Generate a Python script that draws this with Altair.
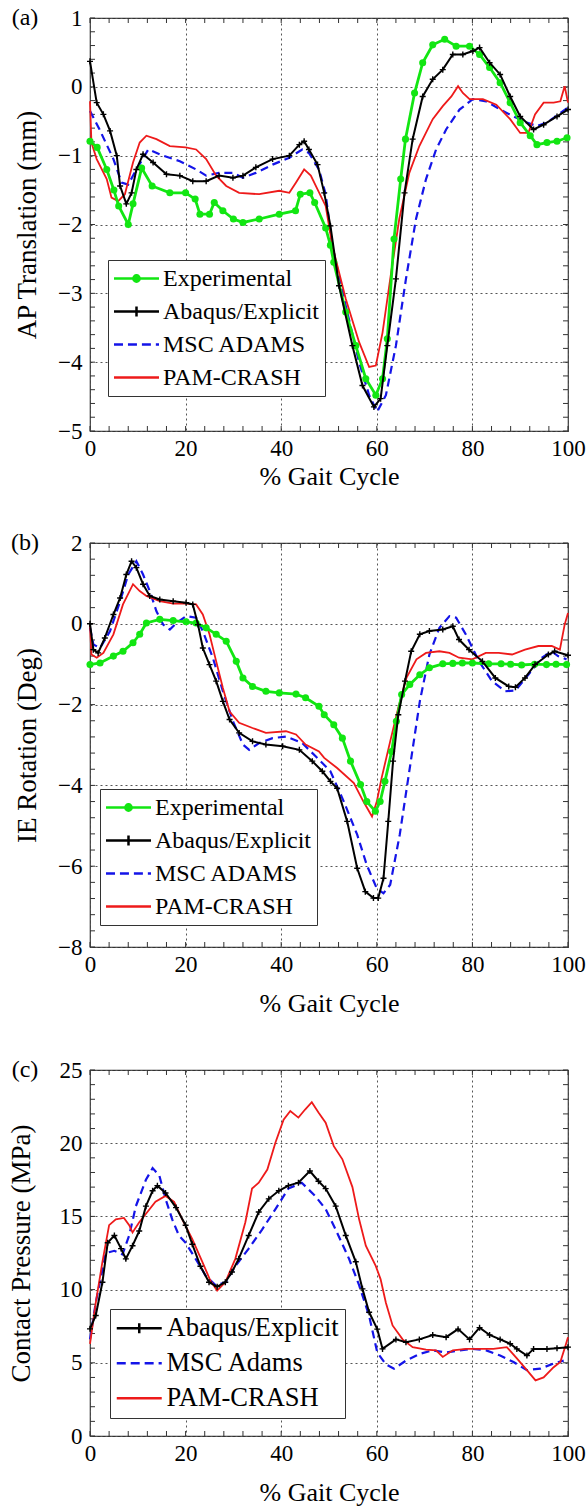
import altair as alt
import pandas as pd

FONT = "Liberation Serif"

# ---------------- Panel (a): AP Translation ----------------
exp_a_x = [0, 1.5, 3.5, 5, 6, 8, 9, 10.8, 13, 16.7, 20, 22, 23, 25, 26, 27.8, 30, 32, 35.4, 39.6, 43, 44, 46, 47,
           49.3, 50.3, 51, 53.5, 55.6, 57.7, 59.8, 61.2, 62.2, 63.6, 65, 66, 67.9, 69.6, 71.7, 74.2, 76.6, 79.4,
           81.5, 83.6, 85.8, 87.9, 90, 92.1, 93.5, 95.6, 97.7, 99.8]
exp_a_y = [-0.79, -0.88, -1.2, -1.5, -1.73, -2.0, -1.7, -1.18, -1.44, -1.54, -1.54, -1.63, -1.85, -1.85, -1.68, -1.8,
           -1.92, -1.97, -1.92, -1.85, -1.8, -1.56, -1.54, -1.68, -2.05, -2.3, -2.55, -3.27, -3.76, -4.24, -4.48,
           -4.24, -3.66, -2.21, -1.34, -0.76, -0.09, 0.35, 0.61, 0.69, 0.59, 0.59, 0.47, 0.28, 0.06, -0.23, -0.52,
           -0.71, -0.84, -0.81, -0.79, -0.74]
abq_a_x = [0, 1.4, 2.8, 4.2, 5.6, 6.3, 7.6, 8.7, 9.7, 11.1, 13.2, 16, 18.8, 21.5, 24.3, 27, 29.9, 32, 34.7, 38.2,
           41.7, 43.8, 44.8, 45.8, 47.6, 49, 50.3, 52.1, 54.9, 57, 59.4, 60.8, 62.2, 64, 65.8, 67.5, 69.6, 71.7,
           73.8, 75.9, 78, 80.1, 81.5, 83.6, 85.8, 87.9, 90, 92.8, 94.9, 97.7, 100]
abq_a_y = [0.37, -0.23, -0.4, -0.64, -1.0, -1.44, -1.7, -1.54, -1.2, -0.98, -1.1, -1.27, -1.29, -1.37, -1.37, -1.29,
           -1.32, -1.29, -1.17, -1.05, -1.0, -0.84, -0.79, -0.91, -1.13, -1.54, -2.02, -2.89, -3.76, -4.34, -4.65,
           -4.53, -3.76, -2.79, -1.54, -0.76, -0.14, 0.11, 0.25, 0.47, 0.47, 0.52, 0.57, 0.35, 0.18, -0.14, -0.43,
           -0.62, -0.55, -0.43, -0.33]
msc_a_x = [0, 2, 4.9, 6.6, 8, 9.7, 12.2, 15.3, 18.8, 22.2, 24.3, 27, 29.9, 32, 34.7, 38.2, 41.7, 44.4, 45.8, 47.9,
           49.3, 50.7, 53.5, 56.3, 58.4, 60.1, 61.9, 64, 66.1, 68.2, 70.3, 72.4, 74.5, 77.3, 80.1, 82.9, 85.8, 88.6,
           91.4, 93.5, 95.6, 98.4, 100]
msc_a_y = [-0.35, -0.62, -1.05, -1.39, -1.42, -1.2, -0.91, -1.0, -1.08, -1.2, -1.29, -1.25, -1.25, -1.32, -1.25,
           -1.13, -1.03, -0.91, -0.96, -1.2, -1.56, -2.31, -3.18, -4.0, -4.48, -4.72, -4.48, -3.76, -2.79, -1.92,
           -1.34, -0.91, -0.62, -0.33, -0.18, -0.21, -0.33, -0.43, -0.52, -0.57, -0.52, -0.38, -0.30]
pam_a_x = [0, 0.3, 1.4, 3.5, 4.5, 5.9, 7.3, 9, 10.4, 11.8, 13.9, 16.7, 20, 22.2, 24.3, 26.4, 28.5, 31.2, 35.4, 39.6,
           41.7, 43.1, 44.8, 46.2, 47.6, 49.3, 50.7, 53.5, 56.3, 58.4, 59.8, 61.2, 63, 64.7, 66.8, 68.9, 71.7, 73.8,
           75.6, 77, 78, 79.4, 82.2, 85, 87.9, 90, 91.7, 93.1, 94.9, 97, 98.4, 99.3, 100]
pam_a_y = [-0.21, -0.81, -1.05, -1.34, -1.61, -1.66, -1.56, -1.1, -0.81, -0.71, -0.76, -0.86, -0.88, -0.91, -1.05,
           -1.29, -1.44, -1.54, -1.56, -1.51, -1.54, -1.39, -1.2, -1.29, -1.49, -1.73, -2.31, -3.08, -3.71, -4.07,
           -4.05, -3.57, -2.70, -1.92, -1.25, -0.86, -0.47, -0.28, -0.14, 0.01, -0.09, -0.18, -0.18, -0.26, -0.47,
           -0.67, -0.67, -0.4, -0.23, -0.23, -0.21, 0.01, -0.23]

# ---------------- Panel (b): IE Rotation ----------------
exp_b_x = [0, 2.1, 4.9, 6.9, 9, 10.4, 11.8, 14.6, 17.4, 20.1, 22.2, 24.3, 26.4, 28.5, 30.6, 32, 34, 36.8, 39.6,
           43.1, 45.1, 47.9, 49, 51, 52.8, 54.5, 56.6, 57.9, 59.7, 60.7, 61.7, 63.1, 64.1, 65.2, 66.9, 69, 71,
           73.8, 75.9, 77.9, 80, 83.4, 86, 88, 90.3, 93, 95.5, 97.5, 99.7]
exp_b_y = [-1.01, -0.97, -0.8, -0.68, -0.47, -0.26, 0.02, 0.11, 0.08, 0.05, 0.02, -0.1, -0.26, -0.43, -0.93, -1.34,
           -1.55, -1.67, -1.71, -1.74, -1.83, -2.04, -2.25, -2.5, -2.83, -3.4, -3.98, -4.4, -4.64, -4.4, -3.9,
           -3.16, -2.41, -1.75, -1.5, -1.26, -1.09, -0.99, -0.98, -0.97, -0.97, -0.99, -0.99, -1.0, -1.02, -1.0,
           -1.01, -1.0, -1.01]
abq_b_x = [0, 0.7, 1.7, 3.1, 4.9, 6.3, 7.6, 8.7, 9.7, 11.1, 12.5, 14.6, 17.4, 20.1, 21.5, 22.6, 23.6, 25, 26.4,
           27.8, 29.2, 31.2, 34, 36.8, 40.3, 43.8, 46.5, 48.6, 50.3, 51.7, 53.8, 55.9, 57.6, 59.3, 60.3, 61.4, 62.4,
           63.4, 64.5, 65.9, 67.2, 69, 71, 73.8, 75.9, 77.2, 79.3, 82.1, 84.8, 87.6, 89, 91, 93.1, 95.9, 97.2, 100]
abq_b_y = [0.0, -0.64, -0.72, -0.35, 0.23, 0.64, 1.22, 1.55, 1.39, 0.98, 0.69, 0.6, 0.56, 0.52, 0.48, -0.02, -0.6,
           -1.01, -1.42, -1.92, -2.37, -2.7, -2.91, -2.99, -3.03, -3.12, -3.4, -3.65, -3.9, -4.07, -4.89, -6.05,
           -6.63, -6.79, -6.79, -6.3, -4.89, -3.4, -2.25, -1.42, -0.68, -0.26, -0.18, -0.14, -0.06, -0.39, -0.64,
           -0.93, -1.34, -1.55, -1.57, -1.34, -1.01, -0.76, -0.68, -0.78]
msc_b_x = [0, 0.7, 2.1, 4.2, 6.3, 8, 9.7, 11.1, 12.5, 13.9, 15.3, 16.7, 18.1, 20.1, 22.2, 23.6, 25.7, 27.8, 29.9,
           32, 33.3, 35.4, 38.2, 41, 44.4, 47.2, 50.3, 53.1, 55.9, 57.9, 60, 61.4, 62.8, 64.8, 66.9, 69, 71, 73.1,
           75.2, 76.6, 78.6, 81.4, 84.1, 86.9, 89, 91.7, 94.5, 96.6, 97.9, 99.7]
msc_b_y = [-0.1, -0.51, -0.6, -0.18, 0.56, 1.22, 1.55, 1.22, 0.81, 0.31, -0.02, -0.14, 0.02, 0.19, 0.15, -0.18,
           -0.84, -1.67, -2.41, -2.99, -3.12, -2.95, -2.83, -2.79, -2.95, -3.28, -3.65, -4.4, -5.22, -5.97, -6.55,
           -6.67, -6.46, -5.22, -3.57, -1.92, -0.76, -0.1, 0.19, 0.15, -0.26, -0.93, -1.42, -1.67, -1.65, -1.26,
           -0.84, -0.68, -0.8, -0.88]
pam_b_x = [0, 0.3, 1.4, 2.8, 4.9, 6.9, 9, 10.4, 11.8, 14.6, 17.4, 20.1, 22.2, 23.6, 25, 26.4, 27.8, 29.2, 31.2, 34,
           36.8, 41, 43.1, 45.1, 47.9, 49, 51.7, 55.2, 57.2, 59, 60, 61, 62.8, 64.5, 66.2, 68.3, 70.3, 73.1, 75.2,
           77.2, 80, 82.8, 85.5, 88.3, 91, 93.8, 96.6, 98.3, 99.3, 100]
pam_b_y = [-0.02, -0.76, -0.84, -0.72, -0.26, 0.48, 0.98, 0.81, 0.69, 0.56, 0.5, 0.5, 0.48, 0.23, -0.26, -0.93,
           -1.59, -2.17, -2.45, -2.58, -2.7, -2.66, -2.74, -2.99, -3.16, -3.32, -3.57, -3.94, -4.4, -4.77, -4.4,
           -3.82, -2.91, -2.08, -1.34, -0.88, -0.72, -0.68, -0.72, -0.84, -0.88, -0.72, -0.72, -0.76, -0.64, -0.55,
           -0.55, -0.64, -0.02, 0.27]

# ---------------- Panel (c): Contact Pressure ----------------
abq_c_x = [0, 1.2, 2.6, 3.7, 5.1, 6.5, 7.5, 8.9, 10.3, 11.7, 13.1, 14.1, 15.8, 18, 20, 21.4, 23.1, 24.9, 26.6, 28.3,
           29.7, 31.1, 33.2, 35.3, 37.4, 39.5, 41.5, 43.6, 46, 47.8, 49.3, 51.4, 53.5, 55.6, 57, 58.4, 60.1, 61.2,
           64, 66.1, 68.9, 71.7, 74.5, 77, 79.4, 81.5, 83.6, 85.8, 87.9, 89.3, 91.4, 92.8, 95.6, 97.7, 100]
abq_c_y = [7.32, 8.23, 10.5, 13.2, 13.7, 12.8, 12.1, 13.0, 14.0, 15.7, 16.75, 17.1, 16.6, 15.6, 14.4, 13.1, 11.6,
           10.5, 10.2, 10.5, 11.2, 12.1, 13.7, 15.3, 16.2, 16.75, 17.1, 17.3, 18.1, 17.4, 16.9, 15.7, 13.7, 11.9,
           10.05, 8.45, 7.3, 5.95, 6.6, 6.4, 6.6, 6.9, 6.75, 7.3, 6.6, 7.4, 6.9, 6.6, 6.3, 5.95, 5.5, 5.95, 5.95,
           6.0, 6.07]
msc_c_x = [0, 1.2, 3.3, 5.1, 6.8, 8.2, 9.6, 11.7, 13.1, 14.5, 15.8, 17.2, 18.6, 20, 22.1, 24.2, 26.3, 28.4, 30.4,
           33.2, 36, 38.8, 41.5, 44.3, 47.1, 49.3, 51.4, 54.2, 56.3, 58.4, 60.1, 61.9, 63.6, 66.1, 68.9, 71.7, 74.5,
           77.3, 80.1, 82.9, 85.8, 88.6, 91.4, 94.2, 97, 99.1]
msc_c_y = [6.6, 9.1, 12.5, 12.65, 12.4, 13.7, 15.7, 17.5, 18.3, 17.8, 16.2, 14.8, 13.7, 13.2, 12.1, 10.95, 10.3,
           10.5, 11.6, 12.8, 14.1, 15.5, 16.9, 17.3, 16.4, 15.5, 14.1, 12.1, 10.3, 8.2, 5.7, 4.9, 4.6, 5.15, 5.6,
           5.85, 5.7, 5.85, 5.95, 5.85, 5.5, 5.05, 4.5, 4.6, 4.95, 5.15]
pam_c_x = [0, 1.2, 2.6, 4, 5.4, 7.1, 8.2, 8.9, 10.3, 12, 13.7, 15.8, 17.6, 19.3, 21.4, 23.5, 25.2, 26.6, 28.3, 30.4,
           32.5, 33.9, 35.3, 37.1, 38.8, 40.5, 41.9, 43.6, 45, 46.4, 47.8, 49.3, 51, 52.8, 54.9, 56.3, 57.7, 59.8,
           60.8, 61.9, 63.3, 65.4, 67.5, 70.3, 72.4, 73.8, 75.9, 78.7, 81.5, 84.4, 87.2, 89.3, 91.4, 93.2, 94.9, 97,
           98.4, 99.5, 100]
pam_c_y = [6.3, 9.1, 11.9, 14.4, 14.8, 14.9, 14.4, 13.9, 14.6, 15.3, 16.0, 16.4, 16.0, 14.8, 13.45, 11.9, 10.6, 9.93,
           10.5, 12.1, 14.6, 16.9, 17.3, 18.2, 20.05, 21.6, 22.2, 21.75, 22.3, 22.8, 22.1, 21.4, 19.8, 18.9, 17.0,
           14.8, 13.0, 11.6, 10.7, 9.1, 7.55, 6.6, 6.07, 5.9, 5.85, 5.4, 5.85, 5.95, 5.95, 5.95, 6.07, 5.3, 4.5,
           3.8, 4.0, 4.7, 5.05, 6.2, 6.75]

# ---------------- Axis tick values ----------------
x_major = [0, 20, 40, 60, 80, 100]
x_minor = list(range(0, 101, 4))
y_major_a = [-5, -4, -3, -2, -1, 0, 1]
y_minor_a = [round(-5 + 0.2 * i, 1) for i in range(31)]
y_major_b = [-8, -6, -4, -2, 0, 2]
y_minor_b = [round(-8 + 0.4 * i, 1) for i in range(26)]
y_major_c = [0, 5, 10, 15, 20, 25]
y_minor_c = list(range(0, 26))

panel_labels = ["(a)", "(b)", "(c)"]
y_titles = ["AP Translation (mm)", "IE Rotation (Deg)", "Contact Pressure (MPa)"]
x_title = "% Gait Cycle"

GREEN, BLACK, BLUE, RED = "#12e612", "#000000", "#1414e8", "#ee1a1a"
# legend glyphs (line + marker), drawn in a [-2, 2] box
P_EXP = ("M-2,0H2M-0.28,0A0.28,0.28 0 1,0 0.28,0A0.28,0.28 0 1,0 -0.28,0"
         "M-0.1,0A0.1,0.1 0 1,0 0.1,0A0.1,0.1 0 1,0 -0.1,0")
P_ABQ = "M-2,0H2M0,-0.44V0.44"
P_MSC = "M-2,0H-1.2M-0.76,0H0.04M0.48,0H1.28M1.72,0H2"
P_PAM = "M-2,0H2"
PLUS = "M-1,0H1M0,-1V1"

W = 478
SYM = 506  # sqrt(506) ~ 22.5 -> glyph 45 px wide


def df(xs, ys):
    return pd.DataFrame({"x": xs, "y": ys})


def panel(label, ytitle, ydom, ymaj, ymin, H, series, leg_names, leg_colors, leg_paths,
          leg_x, leg_y, title_x, x_title_y, leg_font):
    xs = alt.Scale(domain=[0, 100], nice=False, zero=False)
    ys = alt.Scale(domain=ydom, nice=False, zero=False)
    xaxis = alt.Axis(values=x_major, title=x_title, grid=True, ticks=False, tickSize=0, domain=False,
                     labelPadding=6, titleX=W / 2, titleY=x_title_y, titleBaseline="middle",
                     labelFlush=False)
    yaxis = alt.Axis(values=ymaj, title=ytitle, grid=True, ticks=False, tickSize=0, domain=False,
                     labelPadding=8, titleX=title_x, titleY=H / 2, titleBaseline="middle",
                     titleAlign="center", titleAngle=270)

    def X(field="x"):
        return alt.X(f"{field}:Q", scale=xs, axis=xaxis)

    def Y(field="y"):
        return alt.Y(f"{field}:Q", scale=ys, axis=yaxis)

    layers = []
    tick_col = "#333333"
    xt = pd.DataFrame({"v": x_minor})
    yt = pd.DataFrame({"v": ymin})
    layers.append(alt.Chart(xt).mark_rule(color=tick_col, strokeWidth=1).encode(
        x=X("v"), y=alt.value(H), y2=alt.value(H - 5)))
    layers.append(alt.Chart(xt).mark_rule(color=tick_col, strokeWidth=1).encode(
        x=X("v"), y=alt.value(0), y2=alt.value(5)))
    layers.append(alt.Chart(yt).mark_rule(color=tick_col, strokeWidth=1).encode(
        y=Y("v"), x=alt.value(0), x2=alt.value(5)))
    layers.append(alt.Chart(yt).mark_rule(color=tick_col, strokeWidth=1).encode(
        y=Y("v"), x=alt.value(W - 5), x2=alt.value(W)))

    for (kind, xs_, ys_, color, width, dash) in series:
        kw = dict(color=color, strokeWidth=width)
        if dash:
            kw["strokeDash"] = dash
        layers.append(alt.Chart(df(xs_, ys_)).mark_line(**kw).encode(x=X(), y=Y()))
        if kind == "exp":
            layers.append(alt.Chart(df(xs_, ys_)).mark_point(shape="circle", filled=True, size=50,
                                                             color=color, opacity=1).encode(x=X(), y=Y()))
        if kind == "abq":
            layers.append(alt.Chart(df(xs_, ys_)).mark_point(shape=PLUS, filled=False, size=36,
                                                             strokeWidth=1.4, color=color, opacity=1).encode(
                x=X(), y=Y()))

    leg = alt.Legend(title=None, orient="none", legendX=leg_x, legendY=leg_y, labelFont=FONT,
                     labelFontSize=leg_font, labelColor="black", symbolSize=SYM, symbolStrokeWidth=2.5,
                     symbolOffset=10, rowPadding=8, padding=6, fillColor="white", strokeColor="#333333",
                     labelOffset=14, labelLimit=400, symbolOpacity=1)
    legend_layer = alt.Chart(pd.DataFrame({"series": leg_names})).mark_point(
        filled=False, strokeWidth=2.5, size=SYM, opacity=1).encode(
        color=alt.Color("series:N", scale=alt.Scale(domain=leg_names, range=leg_colors), legend=leg),
        shape=alt.Shape("series:N", scale=alt.Scale(domain=leg_names, range=leg_paths), legend=leg),
    ).transform_filter("datum.series == 'none'")
    layers.append(legend_layer)

    lab = alt.Chart(pd.DataFrame({"t": [label]})).mark_text(
        font=FONT, fontSize=24, align="center", baseline="middle", color="black").encode(
        text="t:N", x=alt.value(-65), y=alt.value(0))
    layers.append(lab)

    return alt.layer(*layers).properties(width=W, height=H)


pa = panel(panel_labels[0], y_titles[0], [-5, 1], y_major_a, y_minor_a, 413,
           [("msc", msc_a_x, msc_a_y, BLUE, 2.2, [8, 5]),
            ("pam", pam_a_x, pam_a_y, RED, 1.8, None),
            ("exp", exp_a_x, exp_a_y, GREEN, 2.8, None),
            ("abq", abq_a_x, abq_a_y, BLACK, 2.0, None)],
           ["Experimental", "Abaqus/Explicit", "MSC ADAMS", "PAM-CRASH"],
           [GREEN, BLACK, BLUE, RED], [P_EXP, P_ABQ, P_MSC, P_PAM], 18, 242, -63, 45, 24)

pb = panel(panel_labels[1], y_titles[1], [-8, 2], y_major_b, y_minor_b, 404,
           [("msc", msc_b_x, msc_b_y, BLUE, 2.2, [8, 5]),
            ("pam", pam_b_x, pam_b_y, RED, 1.8, None),
            ("exp", exp_b_x, exp_b_y, GREEN, 2.8, None),
            ("abq", abq_b_x, abq_b_y, BLACK, 2.0, None)],
           ["Experimental", "Abaqus/Explicit", "MSC ADAMS", "PAM-CRASH"],
           [GREEN, BLACK, BLUE, RED], [P_EXP, P_ABQ, P_MSC, P_PAM], 10, 246, -63, 56, 24)

pc = panel(panel_labels[2], y_titles[2], [0, 25], y_major_c, y_minor_c, 366,
           [("msc", msc_c_x, msc_c_y, BLUE, 2.2, [8, 5]),
            ("pam", pam_c_x, pam_c_y, RED, 1.8, None),
            ("abq", abq_c_x, abq_c_y, BLACK, 2.0, None)],
           ["Abaqus/Explicit", "MSC Adams", "PAM-CRASH"],
           [BLACK, BLUE, RED], [P_ABQ, P_MSC, P_PAM], 20, 239, -69, 56, 26.5)

chart = alt.vconcat(pa, pb, pc, spacing=40).resolve_scale(
    x="independent", y="independent", color="independent", shape="independent"
).resolve_legend(color="independent", shape="independent").properties(
    padding={"left": 6, "top": 5, "right": 0, "bottom": 0}
).configure_view(stroke="#333333", strokeWidth=1.2).configure_axis(
    labelFont=FONT, labelFontSize=23, labelColor="black", titleFont=FONT, titleFontSize=27,
    titleFontWeight="normal", titleColor="black", gridColor="#555555", gridDash=[2, 3],
    gridWidth=1, gridOpacity=1
).configure_axisX(titleFontSize=26).configure_legend(
    labelFont=FONT, labelColor="black"
)

chart.save("out.html", embed_options={"renderer": "svg", "actions": False})
